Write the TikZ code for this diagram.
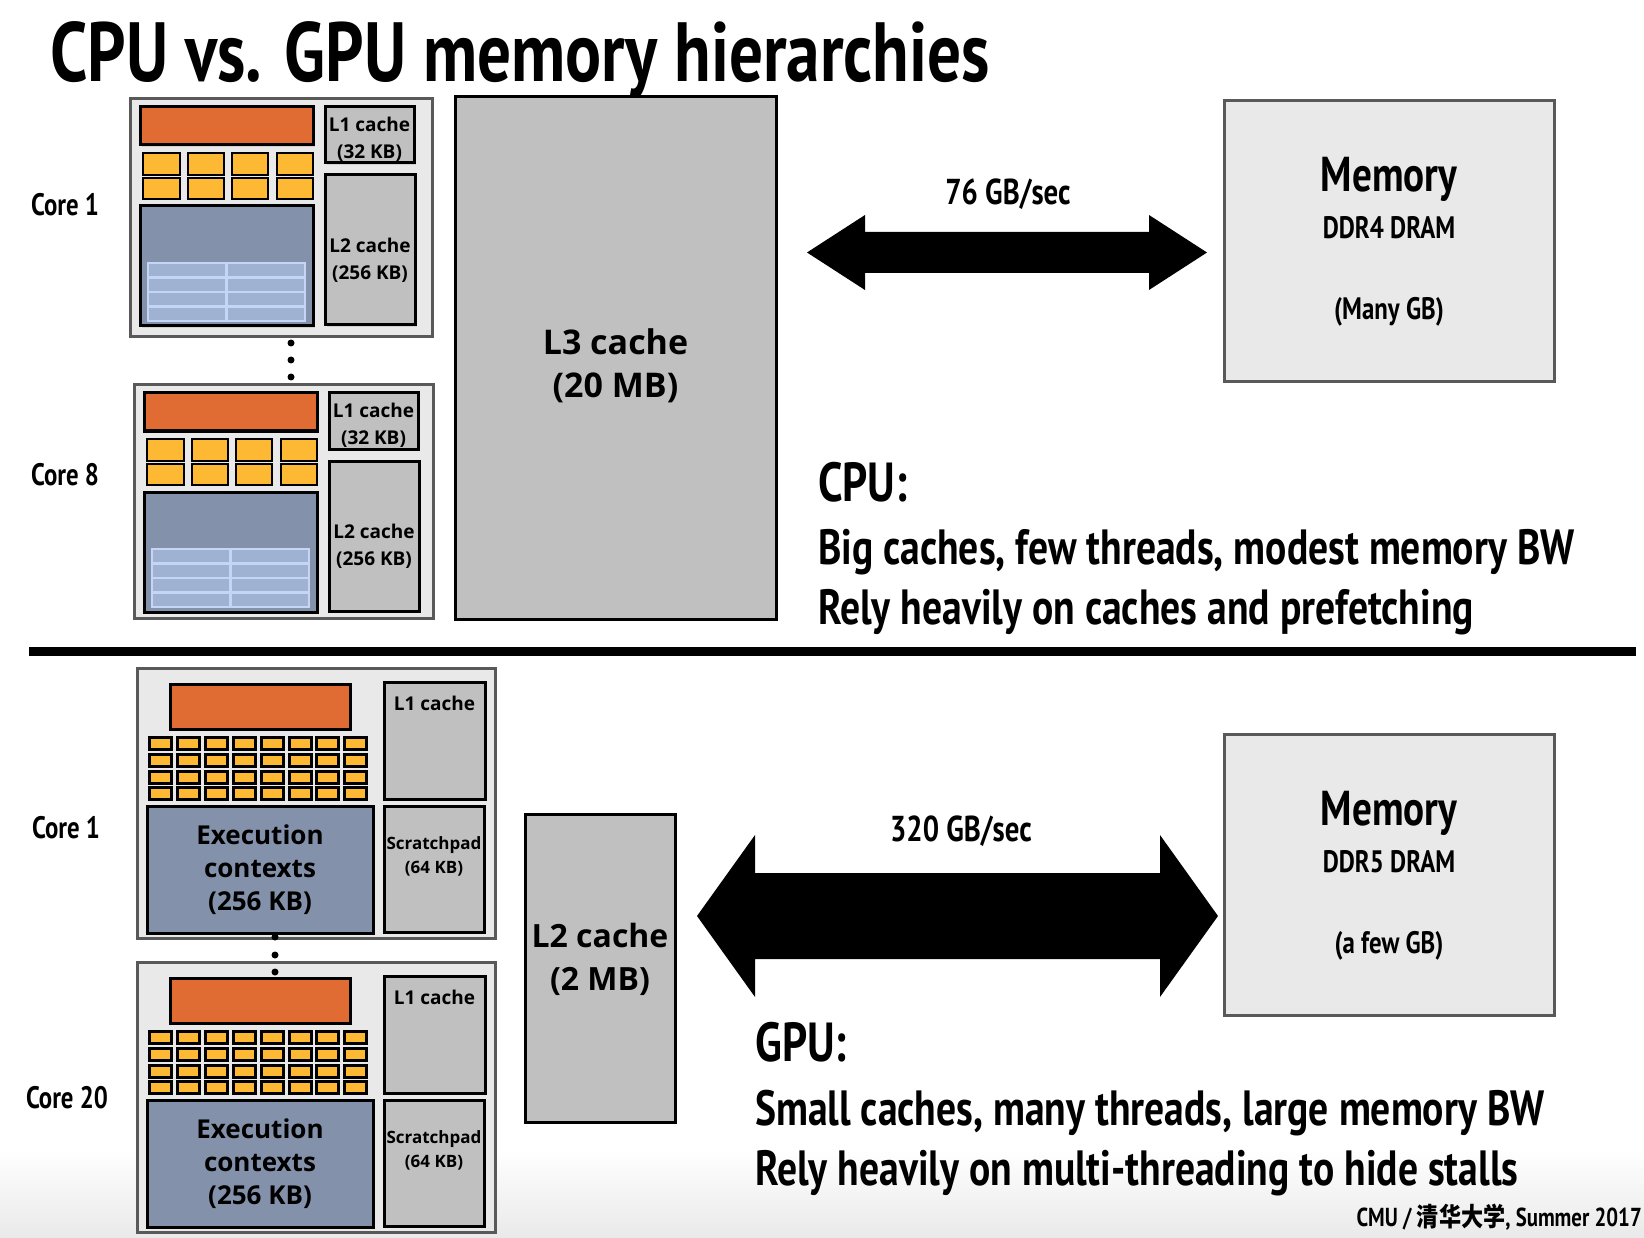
\documentclass[tikz,border=0pt]{standalone}
\usepackage{fontspec}
\setmainfont{Open Sans}
\newfontfamily\cond[FakeStretch=0.80]{PT Sans}
\newfontfamily\cjk[FakeStretch=0.85]{Noto Sans CJK SC}
\usetikzlibrary{shadows}

\definecolor{orng}{RGB}{224,108,51}
\definecolor{yel}{RGB}{253,185,51}
\definecolor{blu}{RGB}{131,145,171}
\definecolor{lblu}{RGB}{160,178,210}
\definecolor{lbord}{RGB}{197,213,245}
\definecolor{cgray}{RGB}{192,192,192}
\definecolor{pgray}{RGB}{233,233,233}
\definecolor{dgray}{RGB}{89,89,89}

\tikzset{
  shd/.style={drop shadow={shadow xshift=2pt, shadow yshift=-2pt, opacity=0.22}},
  coreb/.style={draw=dgray, fill=pgray, line width=3pt},
  memb/.style={draw=dgray, fill=pgray, line width=3pt},
  cacheb/.style={draw=black, fill=cgray, line width=3pt, align=center, shd},
  cachet/.style={align=center, inner sep=0pt, font=\bfseries\fontsize{19}{27}\selectfont},
  obar/.style={draw=black, fill=orng, line width=3pt, shd},
  alu/.style={draw=black, fill=yel, line width=2.5pt},
  galu/.style={draw=black, fill=yel, line width=3pt},
  ctxb/.style={draw=black, fill=blu, line width=3pt, align=center, shd,
    font=\bfseries\fontsize{26}{33}\selectfont},
  bigc/.style={align=center, inner sep=0pt, font=\bfseries\fontsize{34}{43}\selectfont},
  spt/.style={align=center, inner sep=0pt, font=\bfseries\fontsize{17}{24}\selectfont},
  l1t/.style={inner sep=0pt, font=\bfseries\fontsize{19}{24}\selectfont},
  corel/.style={inner sep=0pt, font=\cond\bfseries\fontsize{31}{34}\selectfont},
  bwl/.style={inner sep=0pt, anchor=base, font=\cond\bfseries\fontsize{36}{40}\selectfont},
  memt/.style={inner sep=0pt, anchor=base, font=\cond\bfseries\fontsize{49}{52}\selectfont},
  mems/.style={inner sep=0pt, anchor=base, font=\cond\bfseries\fontsize{31}{34}\selectfont},
  headl/.style={inner sep=0pt, anchor=base west, font=\cond\bfseries\fontsize{55}{60}\selectfont},
  descl/.style={inner sep=0pt, anchor=base west, font=\cond\bfseries\fontsize{49.5}{55}\selectfont},
  dotn/.style={circle, fill=black, inner sep=0pt, minimum size=7pt},
}

\newcommand{\placebox}[7]{%
  \pgfmathsetmacro\rbW{#5-#3}\pgfmathsetmacro\rbH{#6-#4}%
  \node[#2, minimum width=\rbW pt, minimum height=\rbH pt, anchor=north west,
        inner sep=0pt, outer sep=0pt] (#1) at (#3,#4) {#7};}

% #1 prefix, #2 outer right, #3 outer bottom
\newcommand{\cpucore}[3]{%
  \placebox{#1out}{coreb}{130}{99}{#2}{#3}{}
  \placebox{#1fe}{obar}{140}{107}{313}{145}{}
  \foreach \cx/\cxx in {143/180,188/224,232/268,277/313}{%
    \foreach \cy/\cyy in {153/175,178/199}{%
      \draw[alu] (\cx,\cy) rectangle (\cxx,\cyy);}}
  \placebox{#1ctx}{ctxb}{140}{206}{313}{326}{}
  \fill[lbord] (147,262) rectangle (306,322);
  \foreach \c in {0,1}{\foreach \r in {0,1,2,3}{%
    \fill[lblu] ({149+\c*79},{264+\r*14.6}) rectangle ({149+\c*79+76},{264+\r*14.6+12});}}
  \placebox{#1Lone}{cacheb}{325}{107}{414}{163}{}
  \node[cachet] (#1Lonet) at ([yshift=-4.5pt]#1Lone.center) {L1 cache\\(32 KB)};
  \placebox{#1Ltwo}{cacheb}{325}{175}{415}{325}{}
  \node[cachet] (#1Ltwot) at ([yshift=-10pt]#1Ltwo.center) {L2 cache\\(256 KB)};
}

\newcommand{\gpucore}[1]{%
  \placebox{#1out}{coreb}{137}{668}{495}{938}{}
  \placebox{#1fe}{obar}{170}{684}{350}{729}{}
  \foreach \i in {0,...,7}{\foreach \j in {0,...,3}{%
    \draw[galu] ({149.5+\i*27.9},{737.5+\j*16.75}) rectangle ++(22,12);}}
  \placebox{#1ctx}{ctxb}{147}{806}{373}{933}{Execution\\contexts\\(256 KB)}
  \placebox{#1Lone}{cacheb}{384}{682}{485}{799}{}
  \node[l1t] (#1Lonet) at ([yshift=-21pt]#1Lone.north) {L1 cache};
  \placebox{#1sp}{cacheb}{384}{806}{484}{932}{}
  \node[spt] (#1spt) at ([yshift=13pt]#1sp.center) {Scratchpad\\(64 KB)};
}

\begin{document}
\begin{tikzpicture}[x=1pt,y=-1pt]
\useasboundingbox (0,0) rectangle (1644,1238);
\fill[white] (0,0) rectangle (1644,1238);
\shade[top color=white, bottom color=pgray] (0,1150) rectangle (1644,1238);

% title
\node[inner sep=0pt, anchor=base west, font=\cond\bfseries\fontsize{84}{90}\selectfont] (title) at (50,82) {CPU vs. GPU memory hierarchies};

% ---------- CPU ----------
\cpucore{ca}{432}{337}
\begin{scope}[shift={(4,286)}]
\cpucore{cb}{429}{332}
\end{scope}
\node[dotn] (cd1) at (291,343) {};
\node[dotn] (cd2) at (291,360) {};
\node[dotn] (cd3) at (291,377) {};
\node[corel] (cl1) at (65,205) {Core 1};
\node[corel] (cl8) at (65,475) {Core 8};

\placebox{lthree}{cacheb}{455}{97}{776}{619}{}
\node[bigc] (lthreet) at ([yshift=-8pt]lthree.center) {L3 cache\\(20 MB)};

\fill (807,252.5) -- (865,215) -- (865,232) -- (1149,232) -- (1149,215) -- (1207,252.5)
      -- (1149,290) -- (1149,273) -- (865,273) -- (865,290) -- cycle;
\node[bwl] (cbw) at (1008,205) {76 GB/sec};

\placebox{cmem}{memb}{1224}{101}{1554}{382}{}
\node[memt] (cmemt) at ([yshift=-91pt]cmem.north) {Memory};
\node[mems] (cmem1) at ([yshift=-138pt]cmem.north) {DDR4 DRAM};
\node[mems] (cmem2) at ([yshift=-219pt]cmem.north) {(Many GB)};

\node[headl] (cpuh) at (818,501) {CPU:};
\node[descl] (cpu1) at (818,564) {Big caches, few threads, modest memory BW};
\node[descl] (cpu2) at (818,624) {Rely heavily on caches and prefetching};

% separator
\fill (29,647) rectangle (1636,656);

% ---------- GPU ----------
\gpucore{ga}
\begin{scope}[shift={(0,294)}]
\gpucore{gb}
\end{scope}
\node[dotn] (gd1) at (275,937) {};
\node[dotn] (gd2) at (275,955) {};
\node[dotn] (gd3) at (275,972) {};
\node[corel] (gl1) at (66,828) {Core 1};
\node[corel] (gl20) at (67,1098) {Core 20};

\placebox{gltwo}{cacheb}{525}{814}{675}{1122}{}
\node[bigc, font=\bfseries\fontsize{32}{43}\selectfont] (gltwot) at ([yshift=9pt]gltwo.center) {L2 cache\\(2 MB)};

\fill (697,916) -- (755,835) -- (755,873) -- (1160,873) -- (1160,835) -- (1218,916)
      -- (1160,997) -- (1160,959) -- (755,959) -- (755,997) -- cycle;
\node[bwl] (gbw) at (961,841) {320 GB/sec};

\placebox{gmem}{memb}{1224}{734}{1554}{1015}{}
\node[memt] (gmemt) at ([yshift=-91pt]gmem.north) {Memory};
\node[mems] (gmem1) at ([yshift=-138pt]gmem.north) {DDR5 DRAM};
\node[mems] (gmem2) at ([yshift=-219pt]gmem.north) {(a few GB)};

\node[headl] (gpuh) at (755,1061) {GPU:};
\node[descl] (gpu1) at (755,1125) {Small caches, many threads, large memory BW};
\node[descl] (gpu2) at (755,1185) {Rely heavily on multi-threading to hide stalls};

\node[inner sep=0pt, anchor=base east, font=\cond\bfseries\fontsize{26}{30}\selectfont] (foot) at (1642,1226) {CMU / {\cjk 清华大学}, Summer 2017};
\end{tikzpicture}
\end{document}
